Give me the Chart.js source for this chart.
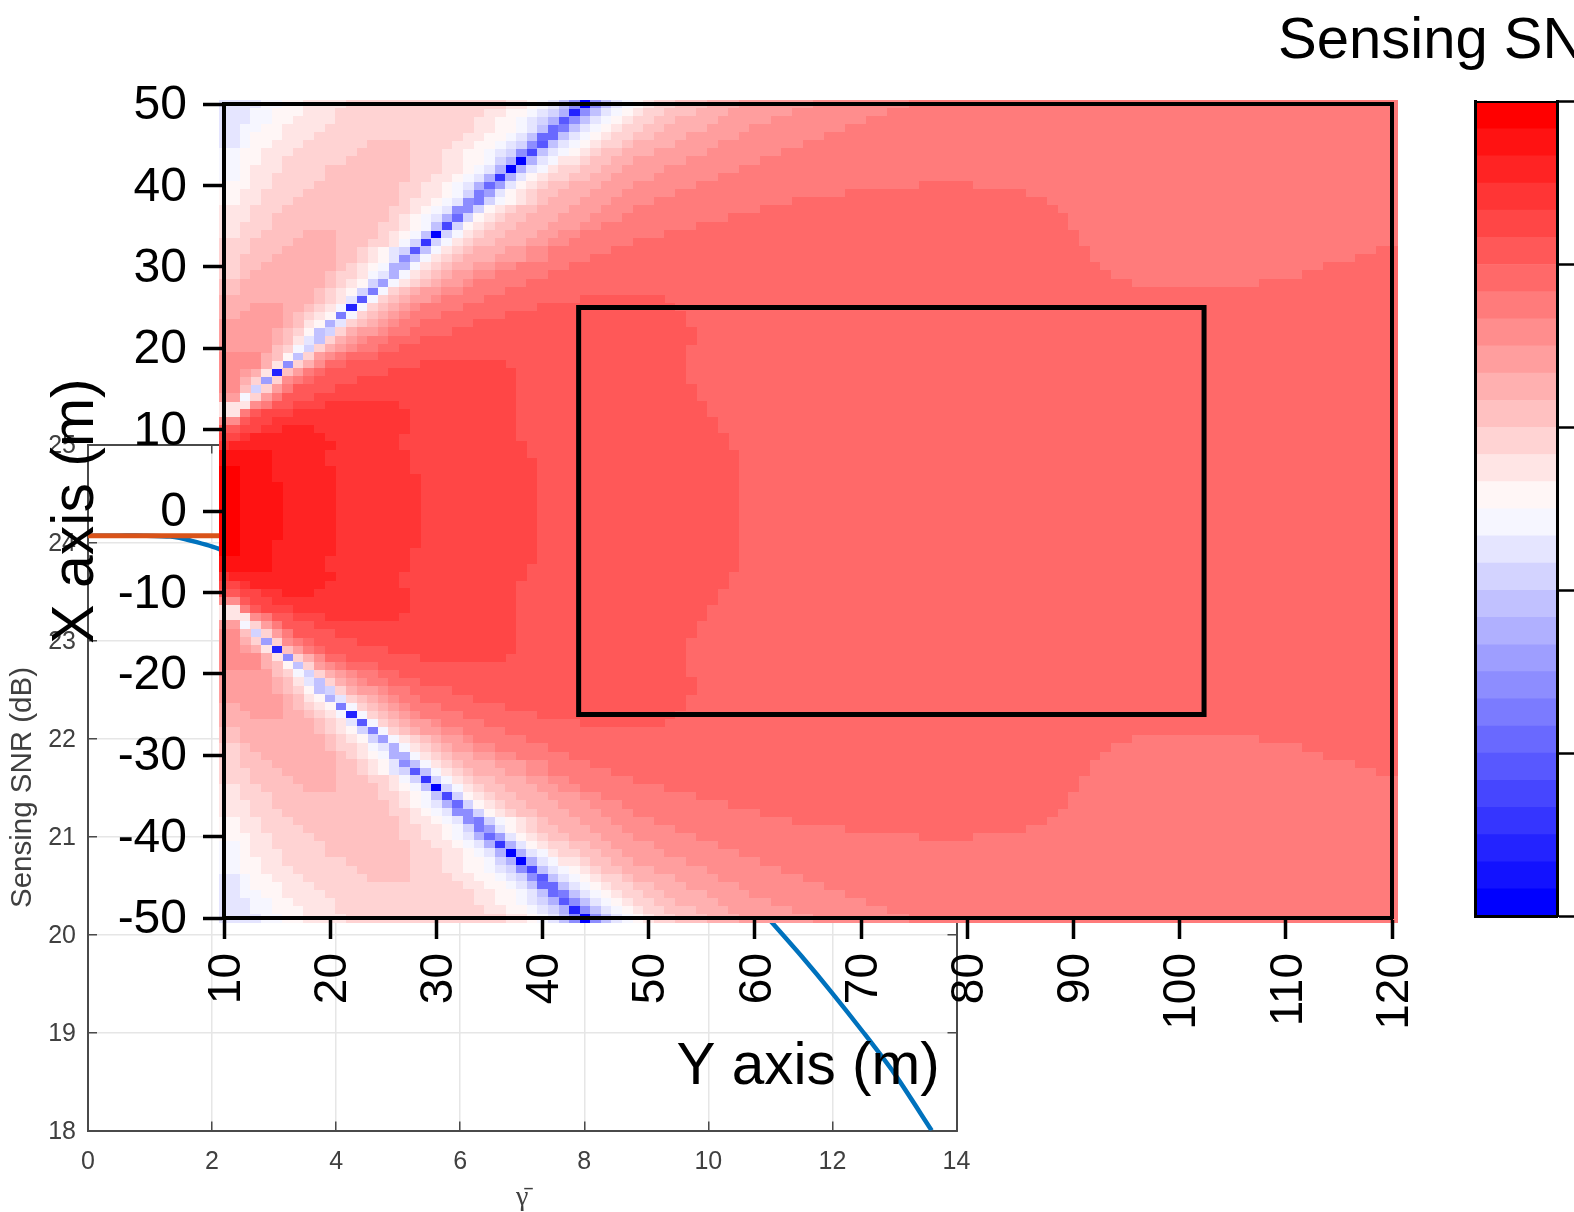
<!DOCTYPE html>
<html>
<head>
<meta charset="utf-8">
<title>Sensing SNR</title>
<script src="https://cdn.jsdelivr.net/npm/chart.js@4"></script>
<style>
  html, body { margin: 0; padding: 0; background: #fff; overflow: hidden; width: 1574px; height: 1212px; }
  canvas { position: absolute; top: 0; }
</style>
</head>
<body>
<canvas id="lineChart" width="1574" height="1212" style="left:0"></canvas>
<canvas id="heatChart" width="1574" height="1212" style="left:0"></canvas>
<canvas id="barChart" width="520" height="1212" style="left:1255px"></canvas>
<script>
// inset line chart
const gammaValues = [0, 0.5, 0.9, 1.33, 1.65, 2.13, 3, 4, 5, 6, 7, 8, 9, 10, 11, 11.5, 12, 12.5, 13, 13.6];
const blueSnr = [24.07, 24.07, 24.07, 24.06, 24.02, 23.93, 23.65, 23.3, 23, 22.7, 22.3, 21.9, 21.4, 20.85, 20.14, 19.78, 19.4, 19, 18.58, 18];
const orangeSnr = [24.07, 24.07, 24.07, 24.07, 24.07, 24.07, 24.07, 24.07, 24.07, 24.07, 24.07, 24.07, 24.07, 24.07, 24.07, 24.07, 24.07, 24.07, 24.07, 24.07];
const gammaTicks = [0, 2, 4, 6, 8, 10, 12, 14];
const snrTicks = [18, 19, 20, 21, 22, 23, 24, 25];

// heatmap axes, one cell per metre
const heatXTicks = [10, 20, 30, 40, 50, 60, 70, 80, 90, 100, 110, 120];
const heatYTicks = [-50, -40, -30, -20, -10, 0, 10, 20, 30, 40, 50];
const boxX = [43.4, 102.3, 102.3, 43.4, 43.4];
const boxY = [25, 25, -25, -25, 25];

// colour bands, red end first; colorbar ticks fall every 6 bands
const bandKeys = "abcdefghijklmnopqrstuvwxyzABCD";
const bandColors = ["#ff0000", "#ff1212", "#ff2323", "#ff3535", "#ff4646", "#ff5858", "#ff6969", "#ff7b7b", "#ff8d8d", "#ff9e9e",
  "#ffb0b0", "#ffc1c1", "#ffd3d3", "#ffe5e5", "#fff6f6", "#f6f6ff", "#e5e5ff", "#d3d3ff", "#c1c1ff", "#b0b0ff",
  "#9e9eff", "#8d8dff", "#7b7bff", "#6969ff", "#5858ff", "#4646ff", "#3535ff", "#2323ff", "#1212ff", "#0000ff"];
const colorbarTicks = [0, 6, 12, 18, 24, 30];

// rows y = 50 down to 0: band letter + last column of the run (column 0 is Y = 10 m)
const upperRows = [
  "q3 p5 o7 n11 m26 n28 o29 p30 q31 s32 v33 D34 v35 s36 q37 p38 o39 n40 m42 l45 k48 j55 i64 h110",
  "q2 p4 o7 n10 m24 n26 o28 p29 q30 r31 t32 B33 v34 s35 q36 p37 o38 n39 m41 l44 k47 j53 i62 h110",
  "q2 p4 o6 n10 m23 n25 o27 p28 q29 r30 t31 y32 v33 s34 q35 p36 o37 n38 m40 l42 k46 j51 i60 h110",
  "q1 p3 o5 n9 m23 n25 o27 p28 q29 s30 x31 w32 s33 q34 p35 o36 n37 m39 l41 k45 j49 i58 h110",
  "q1 p2 o5 n8 m22 n24 o26 p27 q28 s29 x31 s32 q33 p34 o35 n36 m38 l40 k43 j48 i56 h110",
  "q1 p2 o4 n7 m13 l17 m21 n23 o25 p26 q27 r28 v29 y30 s31 q32 p33 o34 n35 m37 l38 k42 j46 i54 h110",
  "p1 o3 n6 m12 l17 m20 n22 o24 p25 q26 r27 v28 z29 s30 q31 p32 o33 n34 m35 l37 k40 j45 i52 h110",
  "p1 o3 n5 m11 l17 m20 n22 o24 p25 r26 t27 D28 t29 q30 p31 n33 m34 l36 k38 j43 i50 h110",
  "p1 o2 n5 m9 l17 m20 n22 o23 p24 q25 t26 D27 t28 q29 p30 n31 m33 l35 k37 j41 i48 h110",
  "p1 o2 n4 m9 l17 m19 n21 o22 p23 q24 t25 A26 t27 q28 o29 n30 m32 l34 k36 j40 i46 h110",
  "o2 n4 m8 l16 m18 n20 o21 p22 q23 t24 x25 u26 q27 o28 n29 m30 l32 k35 j38 i44 h65 g70 h110",
  "o1 n3 m7 l16 m18 n20 o21 p22 r23 w24 u25 q26 o27 n28 m29 l31 k34 j37 i42 h58 g75 h110",
  "o1 n3 m6 l16 m17 n19 o20 p21 q22 v23 w24 r25 p26 o27 n28 m29 l30 k33 j36 i40 h53 g77 h110",
  "n2 m5 l15 m17 n18 o19 p20 q21 v23 r24 o25 n26 m27 l29 k32 j35 i38 h50 g78 h110",
  "n2 m4 l15 m16 n17 o18 p19 q20 t21 x22 r23 o24 n25 m26 l28 k31 j34 i37 h47 g79 h110",
  "n1 m4 l14 m16 n17 o18 p19 s20 z21 r22 o23 n24 m25 l27 k30 j33 i35 h44 g79 h110",
  "n1 m3 l7 k10 l14 m15 n16 o17 p18 s19 D20 r21 p22 n23 m24 l26 k29 j31 i33 h41 g80 h110",
  "m2 l6 k10 l13 m15 n16 p17 r18 A19 r20 p21 n22 m23 l25 k28 j30 i32 h38 g80 h110",
  "m2 l5 k10 l12 m13 n14 o15 q16 r17 y18 s19 p20 n21 m22 l23 k26 j28 i30 h36 g81 h108 g110",
  "m1 l4 k10 l12 m13 n14 o15 q16 v17 s18 p19 n20 m21 l22 k25 j28 i30 h34 g81 h106 g110",
  "m1 l3 k10 l11 m12 n13 o14 p15 t17 p18 n19 m20 l21 k23 j25 i27 h32 g82 h103 g110",
  "m1 l2 k9 l10 m12 n13 p14 q15 t16 p17 n18 m19 l20 k21 j23 i25 h30 g83 h101 g110",
  "l1 k9 l10 m11 n12 o13 r14 u15 p16 n17 m18 l19 k20 j22 i23 h28 g85 h97 g110",
  "l1 k8 l9 m10 n11 o12 r13 w14 p15 m16 l17 k18 j20 i22 h26 g110",
  "k8 l9 m10 n11 q12 y13 p14 m15 l16 k17 j19 i20 h24 g33 f41 g110",
  "k2 j5 k7 l8 m9 n10 p11 B12 p13 m14 l15 k16 j17 i18 h22 g29 f42 g110",
  "k1 j5 k6 l7 m8 n9 o10 w11 p12 m13 l14 k15 j16 i17 h20 g26 f43 g110",
  "j5 k6 l7 n8 o9 t10 q11 m12 l13 k14 j15 i16 h18 g23 f43 g110",
  "j4 k5 l6 m7 o8 s9 r10 m11 k12 j14 i15 h17 g21 f44 g110",
  "j4 k5 l6 n7 q8 s9 m10 k11 j12 i13 h15 g18 f44 g110",
  "j4 l5 m6 p7 r8 m9 k10 j11 i12 h14 g16 f43 g110",
  "i3 k4 l5 o6 s7 m8 j9 i10 h11 g14 f43 g110",
  "i3 k4 n5 v6 m7 k8 i9 g11 f18 e26 f43 g110",
  "i1 j2 k3 n4 B5 l6 j7 h8 g9 f15 e27 f43 g110",
  "i1 k2 m3 u4 m5 i6 h7 g8 f12 e27 f43 g110",
  "i1 l2 r3 m4 j5 h6 f10 e27 f44 g110",
  "j1 p2 m3 j4 h5 f8 e27 f44 g110",
  "n2 i3 h4 f6 e9 d16 e27 f45 g110",
  "n1 h2 f3 e6 d17 e27 f45 g110",
  "i1 f2 e4 d17 e27 f46 g110",
  "f1 e3 d5 c8 d17 e27 f46 g110",
  "e1 d2 c9 d16 e27 f47 g110",
  "d0 c10 d16 e28 f47 g110",
  "b4 c9 d17 e28 f48 g110",
  "b4 c9 d17 e29 f48 g110",
  "a1 b4 c10 d17 e29 f48 g110",
  "a1 b4 c10 d18 e29 f48 g110",
  "a1 b5 c10 d18 e29 f48 g110",
  "a1 b5 c10 d18 e29 f48 g110",
  "a1 b5 c10 d18 e29 f48 g110",
  "a1 b5 c10 d18 e29 f48 g110"
];

Chart.defaults.font.family = "'Liberation Sans', Arial, sans-serif";
Chart.defaults.animation = false;
Chart.defaults.responsive = false;
Chart.defaults.plugins.legend.display = false;
Chart.defaults.plugins.tooltip.enabled = false;

const insetFont = { size: 25 };
const insetDark = "#4a4a4a";
const insetGrid = "#e6e6e6";

function pinWidth(w) { return s => { s.width = w; }; }
function pinHeight(h) { return s => { s.height = h; }; }
function useTicks(values) { return s => { s.ticks = values.map(v => ({ value: v })); }; }

function insetAxis(id, values, min, max, size, extra) {
  const horizontal = id[0] === "x";
  return Object.assign({
    type: "linear", min, max,
    afterBuildTicks: useTicks(values),
    afterFit: horizontal ? pinHeight(size) : pinWidth(size),
    ticks: { display: false, autoSkip: false, maxRotation: 0 },
    grid: { color: insetGrid, lineWidth: 1.5, tickColor: insetDark, tickLength: -9, drawOnChartArea: false },
    border: { color: insetDark, width: 2 }
  }, extra);
}

function createLineChart() {
  const toPoints = vals => gammaValues.map((g, i) => ({ x: g, y: vals[i] }));
  new Chart(document.getElementById("lineChart"), {
    type: "scatter",
    data: {
      datasets: [
        { data: toPoints(orangeSnr), showLine: true, pointRadius: 0, borderColor: "#D95319", borderWidth: 5 },
        { data: toPoints(blueSnr), showLine: true, tension: 0.25, pointRadius: 0, borderColor: "#0072BD", borderWidth: 4.5 }
      ]
    },
    options: {
      layout: { autoPadding: false, padding: { left: 0, top: 444.5, right: 617.5, bottom: 0 } },
      scales: {
        x: insetAxis("x", gammaTicks, 0, 14, 81.5, {
          position: "bottom",
          ticks: { autoSkip: false, maxRotation: 0, color: "#404040", font: insetFont, padding: 26 },
          grid: { color: insetGrid, lineWidth: 1.5, tickColor: insetDark, tickLength: -9 },
          title: { display: true, text: "\u03b3\u0304", color: "#404040", font: { family: "'Liberation Serif', serif", size: 28, lineHeight: 1 }, padding: { top: 0, bottom: 0 } }
        }),
        y: insetAxis("y", snrTicks, 18, 25, 88, {
          position: "left",
          ticks: { autoSkip: false, color: "#404040", font: insetFont, padding: 21, labelOffset: 2 },
          grid: { color: insetGrid, lineWidth: 1.5, tickColor: insetDark, tickLength: -9 },
          title: { display: true, text: "Sensing SNR (dB)", color: "#404040", font: { size: 29.5 }, padding: { top: 5, bottom: 0 } }
        }),
        xTop: insetAxis("xTop", gammaTicks, 0, 14, 0, { position: "top" }),
        yRight: insetAxis("yRight", snrTicks, 18, 25, 0, { position: "right" })
      }
    }
  });
}

// one small canvas per band, used as the point style of that band's cells
function cellStamp(color) {
  const c = document.createElement("canvas");
  c.width = 11;
  c.height = 9;
  const g = c.getContext("2d");
  g.fillStyle = color;
  g.fillRect(0, 0, 11, 9);
  return c;
}

function rowCells(row, y, target) {
  let col = 0;
  row.split(" ").forEach(run => {
    const band = bandKeys.indexOf(run[0]);
    const last = Number(run.slice(1));
    for (; col <= last; col++) target[band].push({ x: 10 + col, y });
  });
}

function createHeatChart() {
  const cells = bandColors.map(() => []);
  upperRows.forEach((row, i) => {
    const y = 50 - i;
    rowCells(row, y, cells);
    if (y > 0) rowCells(row, -y, cells); // the field is mirrored about X = 0
  });

  const cellSets = bandColors.map((color, i) => ({
    data: cells[i],
    pointStyle: cellStamp(color),
    pointRadius: 5,
    clip: false
  }));

  new Chart(document.getElementById("heatChart"), {
    type: "scatter",
    data: {
      datasets: [{
        data: boxX.map((x, i) => ({ x, y: boxY[i] })),
        showLine: true,
        pointRadius: 0,
        borderColor: "#000",
        borderWidth: 5,
        borderJoinStyle: "miter",
        borderCapStyle: "square",
        clip: false
      }].concat(cellSets)
    },
    options: {
      layout: { autoPadding: false, padding: { left: 0, top: 104, right: 182, bottom: 0 } },
      scales: {
        x: {
          type: "linear", min: 10, max: 120, position: "bottom",
          afterBuildTicks: useTicks(heatXTicks),
          afterFit: pinHeight(294),
          ticks: { autoSkip: false, minRotation: 90, maxRotation: 90, color: "#000", font: { size: 46 }, padding: 14, labelOffset: 3 },
          grid: { drawOnChartArea: false, tickColor: "#000", tickWidth: 3.5, tickLength: 21, z: 1 },
          border: { color: "#000", width: 4, z: 1 },
          title: { display: true, text: "Y axis (m)", color: "#000", font: { size: 58.5 }, padding: { top: 0, bottom: 109 } }
        },
        y: {
          type: "linear", min: -50, max: 50, position: "left",
          afterBuildTicks: useTicks(heatYTicks),
          afterFit: pinWidth(224),
          ticks: { autoSkip: false, color: "#000", font: { size: 48 }, padding: 16, labelOffset: 2 },
          grid: { drawOnChartArea: false, tickColor: "#000", tickWidth: 3.5, tickLength: 21, z: 1 },
          border: { color: "#000", width: 4, z: 1 },
          title: { display: true, text: "X axis (m)", color: "#000", font: { size: 59 }, padding: { top: 41, bottom: 0 } }
        },
        xTop: {
          type: "linear", min: 10, max: 120, position: "top",
          afterFit: pinHeight(0),
          ticks: { display: false }, grid: { display: false },
          border: { color: "#000", width: 4, z: 1 }
        },
        yRight: {
          type: "linear", min: -50, max: 50, position: "right",
          afterFit: pinWidth(0),
          ticks: { display: false }, grid: { display: false },
          border: { color: "#000", width: 4, z: 1 }
        }
      }
    }
  });
}

function createColorbar() {
  const blueFirst = [...bandColors].reverse();
  new Chart(document.getElementById("barChart"), {
    type: "bar",
    data: {
      labels: ["SNR"],
      datasets: blueFirst.map(color => ({
        data: [1],
        backgroundColor: color,
        stack: "bands",
        categoryPercentage: 1,
        barPercentage: 1
      }))
    },
    options: {
      layout: { autoPadding: false, padding: { left: 0, right: 0, top: 0, bottom: 296 } },
      plugins: {
        title: {
          display: true,
          text: "Sensing SNR (dB)",
          color: "#000",
          font: { size: 58, weight: "normal" },
          padding: { top: 7, bottom: 25 }
        }
      },
      scales: {
        x: {
          stacked: true,
          afterFit: pinHeight(0),
          ticks: { display: false }, grid: { display: false },
          border: { color: "#000", width: 3, z: 1 }
        },
        y: {
          stacked: true, type: "linear", min: 0, max: 30, position: "right",
          afterBuildTicks: useTicks(colorbarTicks),
          afterFit: pinWidth(218),
          ticks: { display: false },
          grid: { drawOnChartArea: false, tickColor: "#000", tickWidth: 2.5, tickLength: 40 },
          border: { color: "#000", width: 3, z: 1 }
        },
        xTop: {
          type: "linear", position: "top",
          afterFit: pinHeight(0),
          ticks: { display: false }, grid: { display: false },
          border: { color: "#000", width: 2, z: 1 }
        },
        yLeft: {
          type: "linear", min: 0, max: 30, position: "left",
          afterFit: pinWidth(220),
          ticks: { display: false }, grid: { display: false },
          border: { color: "#000", width: 3, z: 1 }
        }
      }
    }
  });
}

createLineChart();
createHeatChart();
createColorbar();
</script>
</body>
</html>
